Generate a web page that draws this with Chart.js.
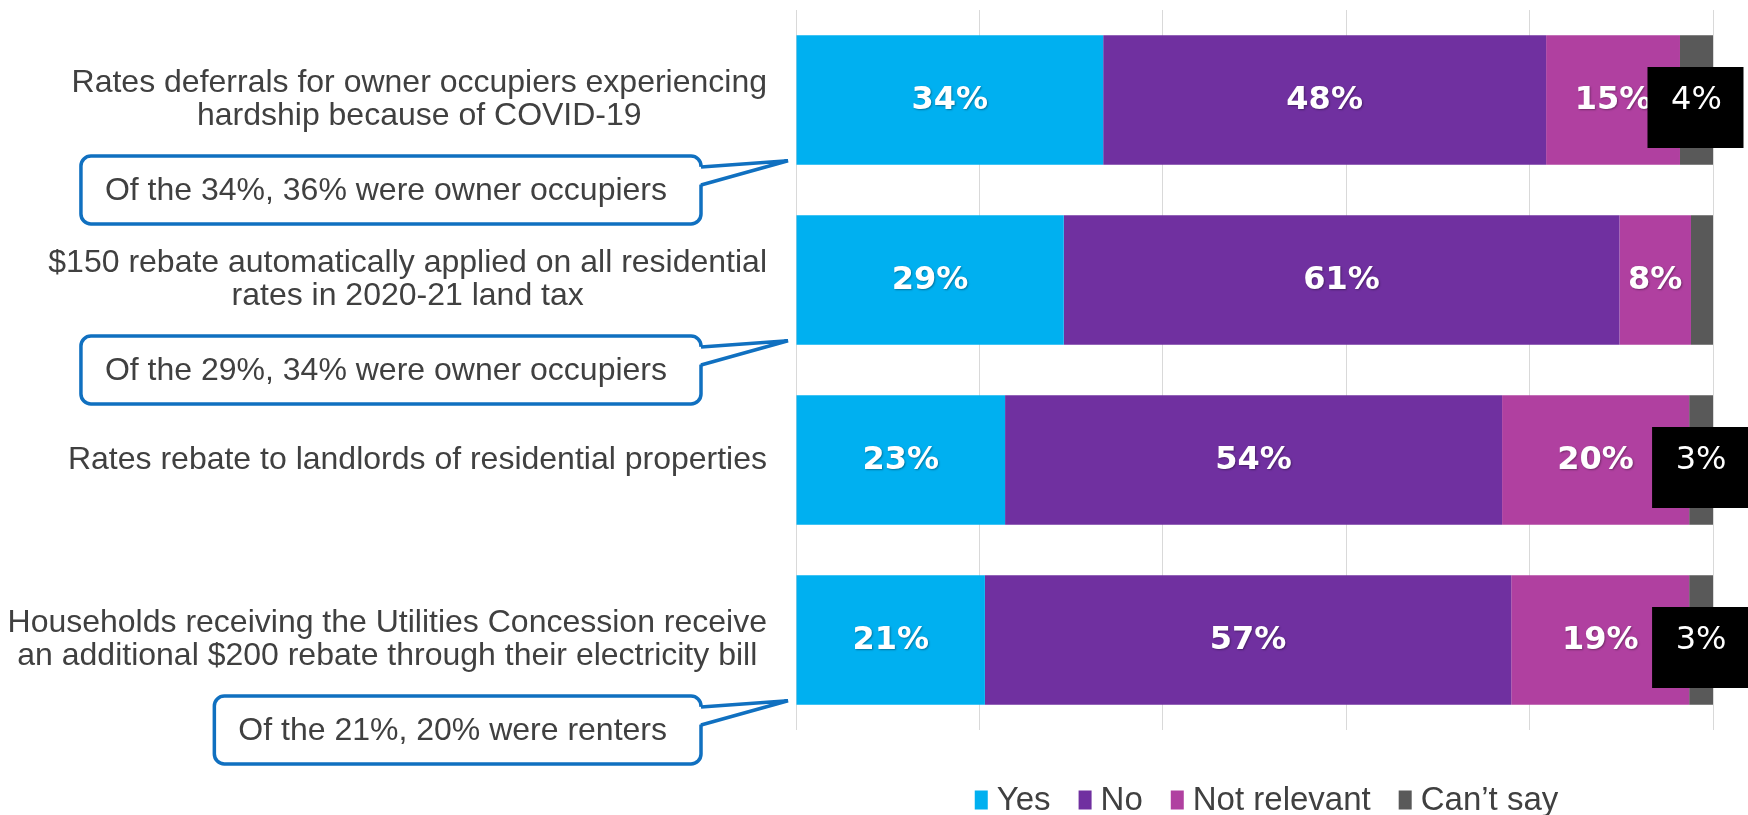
<!DOCTYPE html>
<html>
<head>
<meta charset="utf-8">
<script src="https://cdn.jsdelivr.net/npm/chart.js@4.4.0/dist/chart.umd.min.js"></script>
<style>
  html, body { margin: 0; padding: 0; background: #ffffff; }
  #wrap { width: 1748px; height: 815px; }
</style>
</head>
<body>
<div id="wrap"><canvas id="chart"></canvas></div>
<script>
// category labels (multi line) and the four answer series, in percent
const categories = [
    ["Rates deferrals for owner occupiers experiencing", "hardship because of COVID-19"],
    ["$150 rebate automatically applied on all residential", "rates in 2020-21 land tax"],
    ["Rates rebate to landlords of residential properties"],
    ["Households receiving the Utilities Concession receive", "an additional $200 rebate through their electricity bill"]
];
const seriesNames = ["Yes", "No", "Not relevant", "Can\u2019t say"];
const yesValues = [33.5, 29.2, 22.8, 20.6];
const noValues = [48.3, 60.6, 54.2, 57.4];
const notRelevantValues = [14.6, 7.8, 20.4, 19.4];
const cantSayValues = [3.6, 2.4, 2.6, 2.6];
const calloutTexts = [
    "Of the 34%, 36% were owner occupiers",
    "Of the 29%, 34% were owner occupiers",
    null,
    "Of the 21%, 20% were renters"
];
const xTicks = [0, 20, 40, 60, 80, 100];

const colours = ["#00B0F0", "#7030A0", "#B040A0", "#595959"];
const textGrey = "#404040";
const calloutBlue = "#1070C0";
const sansFont = "'Liberation Sans', Arial, sans-serif";

// draws the question text on the left and the blue speech-bubble notes
const sideTextPlugin = {
    id: "sideText",
    afterDraw(chart) {
        const ctx = chart.ctx;
        const y = chart.scales.y;
        const area = chart.chartArea;
        ctx.save();
        ctx.font = "32px " + sansFont;
        ctx.fillStyle = textGrey;
        ctx.textBaseline = "middle";
        ctx.textAlign = "center";
        const lineH = 33;
        categories.forEach(function (lines, i) {
            const yc = y.getPixelForValue(i);
            let widest = 0;
            lines.forEach(function (l) { widest = Math.max(widest, ctx.measureText(l).width); });
            const cx = area.left - 29 - widest / 2;
            lines.forEach(function (l, j) {
                ctx.fillText(l, cx, yc + (j - (lines.length - 1) / 2) * lineH);
            });
        });

        // callouts
        const meta = chart.getDatasetMeta(0);
        calloutTexts.forEach(function (txt, i) {
            if (!txt) return;
            const mid = (y.getPixelForValue(i) + y.getPixelForValue(i + 1)) / 2;
            const bar = meta.data[i];
            const barBottom = bar.y + bar.height / 2;
            const tw = ctx.measureText(txt).width;
            const right = area.left - 95;
            const left = right - tw - 58;
            const top = mid - 34;
            const h = 68;
            ctx.beginPath();
            ctx.roundRect(left, top, right - left, h, 10);
            ctx.fillStyle = "#ffffff";
            ctx.fill();
            ctx.lineWidth = 3.5;
            ctx.strokeStyle = calloutBlue;
            ctx.stroke();
            // tail
            const tipX = area.left - 8;
            const tipY = barBottom - 4;
            ctx.beginPath();
            ctx.moveTo(right - 3, top + 11);
            ctx.lineTo(tipX, tipY);
            ctx.lineTo(right - 3, top + 29);
            ctx.closePath();
            ctx.fillStyle = "#ffffff";
            ctx.fill();
            ctx.beginPath();
            ctx.moveTo(right, top + 11);
            ctx.lineTo(tipX, tipY);
            ctx.lineTo(right, top + 29);
            ctx.lineJoin = "miter";
            ctx.stroke();
            ctx.fillStyle = textGrey;
            ctx.textAlign = "left";
            ctx.fillText(txt, left + 24, top + h / 2 + 1);
            ctx.textAlign = "center";
        });

        // legend row under the plot
        ctx.font = "33px " + sansFont;
        ctx.textAlign = "left";
        const boxW = 13, boxH = 19, gap = 9, spacing = 28;
        let total = 0;
        seriesNames.forEach(function (n) { total += boxW + gap + ctx.measureText(n).width; });
        total += spacing * (seriesNames.length - 1);
        let lx = (area.left + area.right) / 2 + 12 - total / 2;
        const ly = 800;
        seriesNames.forEach(function (n, k) {
            ctx.fillStyle = colours[k];
            ctx.fillRect(lx, ly - boxH / 2, boxW, boxH);
            lx += boxW + gap;
            ctx.fillStyle = textGrey;
            ctx.fillText(n, lx, ly + 1);
            lx += ctx.measureText(n).width + spacing;
        });
        ctx.restore();
    }
};

// percentage labels on the bar segments
const barLabelPlugin = {
    id: "barLabels",
    afterDatasetsDraw(chart) {
        const ctx = chart.ctx;
        ctx.save();
        ctx.textAlign = "center";
        ctx.textBaseline = "middle";
        chart.data.datasets.forEach(function (ds, d) {
            const meta = chart.getDatasetMeta(d);
            meta.data.forEach(function (el, i) {
                const v = Math.round(ds.data[i]);
                const p = el.getCenterPoint();
                if (d < 3) {
                    ctx.font = "bold 32px 'DejaVu Sans', sans-serif";
                    ctx.shadowColor = "rgba(0,0,0,0.35)";
                    ctx.shadowBlur = 2;
                    ctx.shadowOffsetX = 1;
                    ctx.shadowOffsetY = 1;
                    ctx.fillStyle = "#ffffff";
                    ctx.fillText(v + "%", p.x, p.y + 1);
                    ctx.shadowColor = "transparent";
                } else if (v >= 3) {
                    ctx.fillStyle = "#000000";
                    ctx.fillRect(p.x - 49, p.y - 33, 96, 81);
                    ctx.font = "32px 'DejaVu Sans', sans-serif";
                    ctx.fillStyle = "#ffffff";
                    ctx.fillText(v + "%", p.x, p.y + 1);
                }
            });
        });
        ctx.restore();
    }
};

const seriesValues = [yesValues, noValues, notRelevantValues, cantSayValues];

new Chart(document.getElementById("chart"), {
    type: "bar",
    data: {
        labels: categories,
        datasets: seriesNames.map(function (name, k) {
            return {
                label: name,
                data: seriesValues[k],
                backgroundColor: colours[k],
                borderWidth: 0,
                barPercentage: 0.9,
                categoryPercentage: 0.8
            };
        })
    },
    options: {
        indexAxis: "y",
        responsive: true,
        maintainAspectRatio: false,
        animation: false,
        devicePixelRatio: 1,
        layout: { padding: { top: 10, left: 796, right: 35, bottom: 85 } },
        scales: {
            x: {
                stacked: true,
                min: 0,
                max: 100,
                afterBuildTicks: function (s) { s.ticks = xTicks.map(function (v) { return { value: v }; }); },
                ticks: { display: false },
                grid: { color: "#d9d9d9", lineWidth: 1, drawTicks: false },
                border: { display: false }
            },
            y: {
                stacked: true,
                display: false
            }
        },
        plugins: {
            legend: { display: false },
            tooltip: { enabled: false }
        }
    },
    plugins: [barLabelPlugin, sideTextPlugin]
});
</script>
</body>
</html>
